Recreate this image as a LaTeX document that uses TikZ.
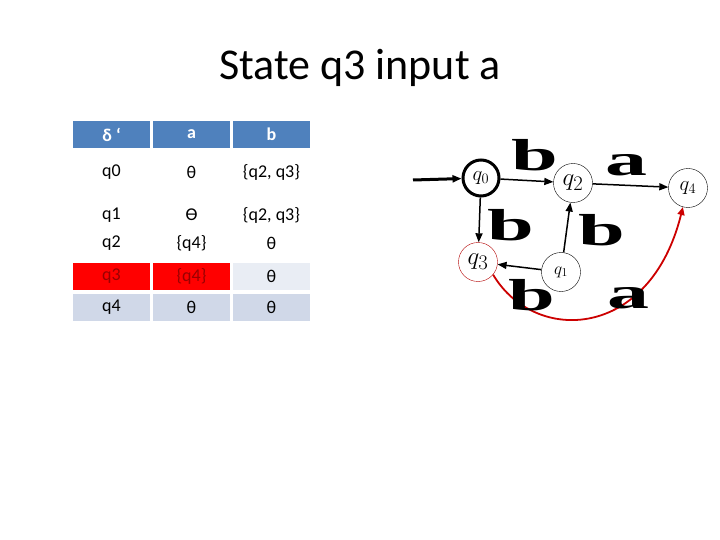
\documentclass[tikz,border=0pt]{standalone}
\usepackage{fontspec}
\setmainfont{Carlito}
\newfontfamily\serifb{Liberation Serif}
\usetikzlibrary{arrows.meta}
\definecolor{hdr}{HTML}{4F81BD}
\definecolor{rowa}{HTML}{E9EDF4}
\definecolor{rowb}{HTML}{D0D8E8}
\tikzset{
 cell/.style={minimum width=77pt,minimum height=27pt,inner sep=0pt,font=\fontsize{18}{20}\selectfont},
 hcell/.style={cell,fill=hdr,text=white,font=\fontsize{18}{20}\selectfont\bfseries},
 st/.style={circle,draw,minimum size=39pt,inner sep=0pt,font=\itshape\fontsize{22}{22}\selectfont},
 big/.style={font=\serifb\bfseries\fontsize{56}{56}\selectfont,inner sep=0pt,xscale=1.5,yscale=0.8},
 arr/.style={-{Triangle[length=9pt,width=7pt]},line width=1.5pt},
}
\begin{document}
\begin{tikzpicture}[x=1pt,y=-1pt]
\useasboundingbox (0,0) rectangle (720,540);
\node[font=\fontsize{44}{48}\selectfont] (title) at (360,68) {State q3 input a};
% table
\node[hcell] (h0) at (111.5,134.5) {δ ‘};
\node[hcell] (h1) at (191.5,134.5) {a};
\node[hcell] (h2) at (271.5,134.5) {b};
\node[cell] (r00) at (111.5,172) {q0};
\node[cell] (r01) at (191.5,172) {θ};
\node[cell] (r02) at (271.5,172) {\{q2, q3\}};
\node[cell] (r10) at (111.5,215) {q1};
\node[cell] (r11) at (191.5,215) {ϴ};
\node[cell] (r12) at (271.5,215) {\{q2, q3\}};
\node[cell] (r20) at (111.5,243) {q2};
\node[cell] (r21) at (191.5,243) {\{q4\}};
\node[cell] (r22) at (271.5,243) {θ};
\node[cell,fill=red,text=red!60!black] (r30) at (111.5,276) {q3};
\node[cell,fill=red,text=red!60!black] (r31) at (191.5,276) {\{q4\}};
\node[cell,fill=rowa] (r32) at (271.5,276) {θ};
\node[cell,fill=rowb] (r40) at (111.5,307.5) {q4};
\node[cell,fill=rowb] (r41) at (191.5,307.5) {θ};
\node[cell,fill=rowb] (r42) at (271.5,307.5) {θ};
% automaton
\node[st,line width=3pt,minimum size=36pt] (q0) at (481,178) {$q_0$};
\node[st,font=\fontsize{30}{30}\selectfont] (q2) at (573,183) {$q_2$};
\node[st] (q4) at (688,188) {$q_4$};
\node[st,draw=red!70!black,font=\fontsize{30}{30}\selectfont] (q3) at (478,262) {$q_3$};
\node[st,font=\fontsize{17}{17}\selectfont] (q1) at (561,272) {$q_1$};
\coordinate (init) at (413,180);
\draw[arr,line width=3pt] (init) -- (q0);
\draw[arr] (q0) -- (q2);
\draw[arr] (q2) -- (q4);
\draw[arr] (q0) -- (q3);
\draw[arr] (q1) -- (q2);
\draw[arr] (q1) -- (q3);
\draw[-{Triangle[length=8pt,width=7pt]},line width=1.8pt,red!80!black] (q3.-40) .. controls (535,345) and (650,340) .. (q4.-105);
\node[big] (lb1) at (535,155) {b};
\node[big] (la1) at (626,165) {a};
\node[big] (lb2) at (511,225) {b};
\node[big] (lb3) at (602,230) {b};
\node[big] (lb4) at (532,295) {b};
\node[big] (la2) at (628,298) {a};
\end{tikzpicture}
\end{document}
